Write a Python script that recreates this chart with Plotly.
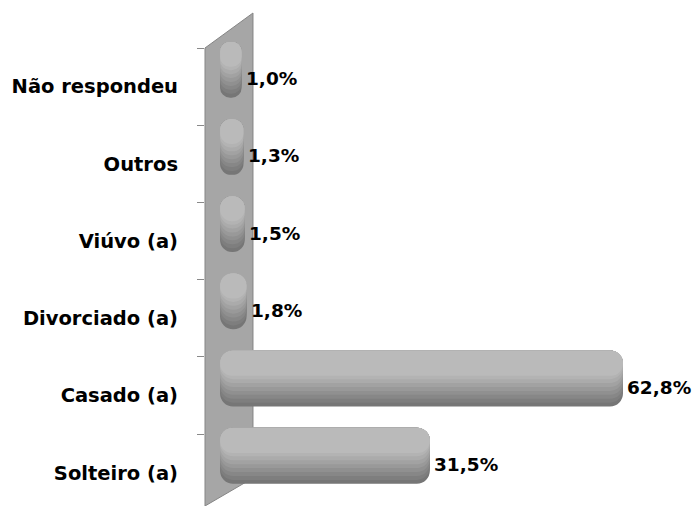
import plotly.graph_objects as go

# ---- data ----
categories = ["Solteiro (a)", "Casado (a)", "Divorciado (a)", "Viúvo (a)", "Outros", "Não respondeu"]
values = [31.5, 62.8, 1.8, 1.5, 1.3, 1.0]
value_labels = ["31,5%", "62,8%", "1,8%", "1,5%", "1,3%", "1,0%"]

# ---- layout constants (styles) ----
W, H = 695, 506
ML, MR, MT, MB = 205, 55, 42, 0
PW, PH = W - ML - MR, H - MT - MB
depth = 2.5          # cylinder starts slightly behind the wall (3D look)
bar_w = 0.725
lift = 0.22          # 3D perspective shift of bars upward
FONT = "DejaVu Sans"

fig = go.Figure()

# cylinder shading: stacked bands (from bar top down to fraction b), darker first
bands = [
    (1.00, 118), (0.93, 126), (0.86, 135), (0.79, 144), (0.72, 153),
    (0.65, 162), (0.58, 171), (0.51, 179), (0.45, 186),
]
for b, g in bands:
    w = bar_w * b
    top = lift + bar_w / 2
    fig.add_trace(go.Bar(
        y=categories,
        x=[v + depth for v in values],
        base=-depth,
        orientation="h",
        width=w,
        offset=top - w,
        marker=dict(color=f"rgb({g},{g},{g})", line=dict(width=0), cornerradius=13),
        hoverinfo="skip",
        showlegend=False,
    ))

# value labels
for c, v, t in zip(categories, values, value_labels):
    fig.add_annotation(
        x=v, y=c, text=t, showarrow=False,
        xanchor="left", yanchor="middle", xshift=2, yshift=8,
        font=dict(family=FONT, size=18.5, color="black", weight="bold"),
    )

def px2paper(px, py):
    return (px - ML) / PW, (H - MB - py) / PH

pts = [px2paper(*p) for p in [(205, 48), (253, 13), (253, 478), (205, 506)]]
path = "M " + " L ".join(f"{x:.4f},{y:.4f}" for x, y in pts) + " Z"
fig.add_shape(type="path", path=path, xref="paper", yref="paper",
              fillcolor="#a6a6a6", line=dict(color="#858585", width=1), layer="below")

fig.update_layout(
    width=W, height=H,
    margin=dict(l=ML, r=MR, t=MT, b=MB),
    paper_bgcolor="white", plot_bgcolor="rgba(0,0,0,0)",
    barmode="overlay",
    xaxis=dict(range=[-4.94, 65.56], visible=False),
    yaxis=dict(
        type="category",
        range=[-0.43, 5.578],
        tickson="boundaries",
        ticks="outside", ticklen=7, tickcolor="#898989", tickwidth=1,
        showgrid=False, showline=False, zeroline=False,
        tickfont=dict(family=FONT, size=19.5, color="black", weight="bold"),
        ticklabelstandoff=26,
    ),
)

fig.write_html(
    "out.html",
    config={"displayModeBar": False},
    post_script="document.body.style.margin='0';document.body.style.overflow='hidden';",
)
